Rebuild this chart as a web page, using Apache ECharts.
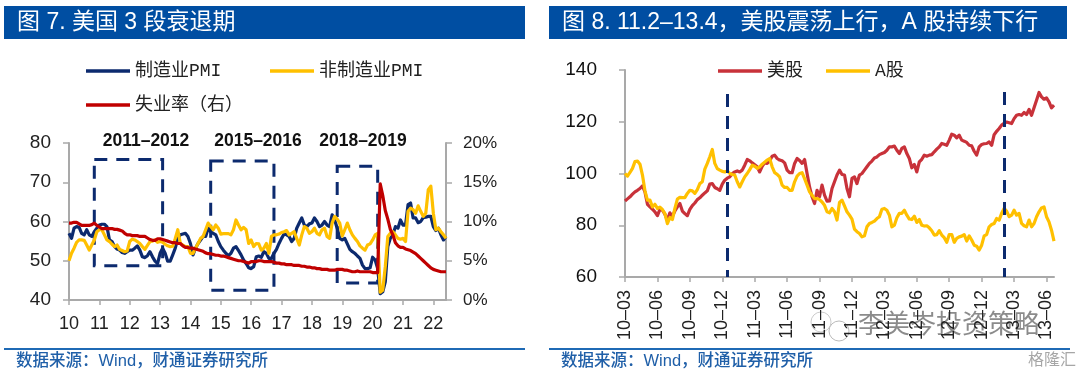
<!DOCTYPE html>
<html>
<head>
<meta charset="utf-8">
<style>
  html, body { margin: 0; padding: 0; background: #fff; }
  #main { width: 1080px; height: 375px; }
</style>
<script src="https://cdn.jsdelivr.net/npm/echarts@6/dist/echarts.min.js"></script>
</head>
<body>
<div id="main"></div>
<script>
// 图7，月度，2010-01起
const yearTicks = ["10","11","12","13","14","15","16","17","18","19","20","21","22"];
const mfgPmi = [57,55.7,58.3,58.7,58.5,57,56.6,57.9,56.6,56.2,57.4,58.3,59.1,59.3,59.3,58.7,55.3,54.9,53.6,53,52.7,52.1,51.9,52.3,52.7,52.7,53.2,53.8,52.7,51,50.8,51.3,52.3,51,49.9,49.3,51.9,53.2,51.9,49.9,49.9,51.5,53.2,55.7,56.6,56.8,57,56.2,54.4,51.5,53.2,54.4,55.3,56.2,56.2,58.3,57.4,57,56.6,54.9,53.6,52.7,51.9,51.3,51.9,53.2,53.6,52.6,51.5,50.2,49.3,48.2,48,48.5,51,51.2,50.9,52.3,51.9,50.6,50.6,51.9,52.9,54.4,55.7,56.8,56.6,56.2,54.9,55.7,58.3,59.6,60.9,59.1,58.7,59.4,59.6,60.9,60,58.7,59.1,60,59.1,58.7,61.7,60.4,58.3,55.7,55.3,55.7,54.3,52.9,52.3,51.9,51.2,50.6,48.9,48,48,48.2,50.9,50.2,48,41.6,42.1,44.6,53.6,55.7,56.6,58.7,58.3,60.4,59.1,59.1,64.3,64.7,60.9,60.9,59.7,60,61,61.1,61.3,61.3,58.7,57.7,58.3,56.6,55.3,56.2];
const nonMfgPmi = [50,51.9,53.2,54.7,55.3,55.3,55.2,54,52.7,54,55.3,57.4,57.9,57.9,56.6,55.3,54.9,54.2,53.6,54,52.9,52.6,52.3,52.5,54.9,55.5,55.3,54.9,54.4,53.6,52.9,53.9,54.9,55,55.3,54.7,54.9,54.7,54.2,53.8,53.6,53.7,55.7,57.9,54.4,54,53.6,53.6,51.9,51.9,53.2,54.4,55.7,56.2,57.9,59.6,58.7,57.9,59.1,58.3,56.8,56.9,56.9,56.9,56.6,57.9,60.4,59.1,57.9,58.5,57.9,54.4,55.3,53.6,54.4,54.3,52.7,53.2,54.4,51.9,56.2,56.6,56.6,56.8,57.2,57.4,57.7,56.6,57,57.4,55.7,54,56.6,58.7,58.3,57,57.4,58.3,57,56.6,57.9,58.3,56.2,55.7,59.6,61.3,60.6,59.6,56.3,57.9,59.6,57.9,56.6,55.7,54.9,53.8,53.2,52.7,54,54.3,55.3,56.6,57,42,42.5,48.5,56.2,57,57.4,56.6,55.7,55.5,55.7,54.9,62.6,63.4,63,62.1,64,62.6,61.3,62.1,68.1,69,62.1,57.9,58.3,57.4,56.6,55.7];
const unemployment = [9.8,9.8,9.9,9.9,9.7,9.5,9.5,9.5,9.5,9.6,9.8,9.5,9.3,9.1,9.1,9.1,9.1,9.1,9,9,8.9,8.8,8.5,8.3,8.3,8.2,8.2,8.2,8.1,8.1,8.1,7.9,7.7,7.6,7.6,7.8,7.8,7.7,7.6,7.5,7.4,7.3,7.3,7.2,7.2,6.9,6.7,6.7,6.6,6.6,6.5,6.4,6.3,6.2,6,5.9,5.9,5.8,5.7,5.7,5.6,5.6,5.5,5.4,5.3,5.2,5.1,5,5,4.9,4.8,4.7,4.9,4.9,4.9,5,5,4.9,4.9,4.9,4.9,4.8,4.7,4.7,4.6,4.6,4.5,4.5,4.5,4.4,4.4,4.4,4.3,4.3,4.2,4.2,4.1,4.1,4,4,3.9,3.9,3.9,3.8,3.8,3.8,3.9,3.9,3.9,3.8,3.8,3.7,3.6,3.6,3.7,3.6,3.6,3.6,3.6,3.6,3.5,3.5,3.5,14.8,13.3,11.4,10.3,9,8.3,7.3,6.9,6.7,6.7,6.5,6.4,6.3,6.1,5.9,5.6,5.3,5,4.7,4.4,4.1,3.9,3.8,3.7,3.6,3.6,3.6];
// 虚线框 [起点月序号, 终点月序号, 上沿, 下沿]
const recessionBoxes = [[10,37,75.8,48.7],[56,81,75.4,42.5],[106,122,74.1,44.3]];

// 图8，周度，2010-03起
const stockTicks = ["10–03","10–06","10–09","10–12","11–03","11–06","11–09","11–12","12–03","12–06","12–09","12–12","13–03","13–06"];
const usStock = [89.4,90.2,91,92,92.9,93.5,94.2,95.2,92.9,88.1,87.1,86.2,85.2,83.7,86.1,85.8,84.3,81.9,84.8,83.5,85.5,87.1,88.4,85.5,84.5,83.7,86.1,87.6,88.6,89.9,90.6,91.6,92.5,93.3,95.9,96.1,94.6,94.1,93.5,95.9,97.4,98.2,98.7,100,100.6,101,100.6,101.3,103.2,105.4,104.9,104.1,103.4,102.6,100.6,102.8,104.1,103.9,104.9,106.7,107.1,105.8,105.2,104.9,104.1,101.3,100.3,100.3,103.9,105.8,105,103.9,105.4,100,94.8,91,88.4,93.5,91,95.5,91.6,89.3,89.4,94.2,96.8,99.4,101.3,99.6,99.4,94.2,91,98.1,98.7,96.1,99.4,100,101.3,102.6,103.9,104.8,106,106.4,107.3,107.7,108.1,109,110.3,110.3,110.6,109,107.7,109.7,110.3,107.7,105.8,102.2,103.5,100.6,104.5,105.5,107.1,106.7,107.1,107.3,108.4,109.4,110.3,111.6,111.3,110.9,112.9,115.2,114.8,113.8,114.8,112.9,112.5,112,110.9,110.7,108.6,107.1,110.3,111.2,111.5,111.6,112.2,110.9,115,116.3,117.4,118.7,119.4,119.9,119.6,119.3,121.2,122.5,122.8,122.5,123.6,122.8,124.8,122.5,125.4,128.3,131.3,129.6,128.7,129.2,127.7,125.4,126.4];
const aStock = [100,99,100.4,102,104.6,104.8,103.6,99.4,93.3,89.7,89.7,87.1,88.1,86.5,87,86.1,84.5,80.6,83,82.2,86.5,90.1,90.8,90.7,90.7,92.3,93.5,93.3,92.3,93.8,96.1,96.8,101.7,103.9,106.5,109.3,103.9,101.9,101.3,100.8,100.6,101,100,99.6,99.4,96.8,94.8,96.8,98.7,100,101.5,103.2,102.8,102,102.6,103.6,104.4,105.2,105.8,102.6,100.3,99.7,98.7,95.5,94.6,94.6,93.5,93.5,96.8,99,100,100.3,98,95.5,92.9,91.6,90.3,90.3,89.9,89,87.7,85.2,84.8,86.5,85.2,82,88.8,89.7,87.5,85.2,83.9,82.4,78.5,77.5,76.8,75.5,75.9,79.4,80.7,81.1,81.6,82.6,83.3,86.2,86.5,85.8,83.9,79.4,80,82.9,84.6,84.6,85.8,83.9,82.4,82.2,83.5,81.1,82.2,80,79.7,79.8,79,77.9,76.2,76.4,77.9,76.2,75.2,73.4,76.4,76.4,73.4,74.9,75.5,75.8,76.4,73.9,75.9,74.3,72.3,71.9,70.4,72.3,75.9,76.4,79.4,80.3,80.7,82.6,82,84.6,86.5,85.5,83.3,83.9,85.8,83.9,84.6,80.7,79.8,79.4,82,79.4,80.7,83.3,85.2,86.7,87.1,83.3,81.3,78.1,73.9];
// 两条竖虚线 [周序号, 上端]
const phaseLines = [[41,130.7],[152,131.5]];

const monthCats = mfgPmi.map((_, i) => (i % 12 === 0 ? yearTicks[i / 12] : "m" + i));
const weekCats = usStock.map((_, i) => (i % 13 === 0 ? stockTicks[i / 13] : "w" + i));

const NAVY = "#0c2a6e";
const YELLOW = "#ffc000";
const LATIN = '"Liberation Sans","Noto Sans CJK SC",sans-serif';
const LEGEND_FONT = '"Liberation Mono","Noto Sans CJK SC",monospace';
const AXIS_GRAY = "#a9a9a9";

const axisLine = { show: true, lineStyle: { color: AXIS_GRAY, width: 2 } };
const axisTick = { show: true, length: 6, lineStyle: { color: AXIS_GRAY, width: 1.5 } };

function legendAt(left, name) {
  return {
    left: left, top: name[1], data: [{ name: name[0], icon: "rect" }], itemWidth: 44, itemHeight: 3.5, padding: 0,
    textStyle: { fontFamily: LEGEND_FONT, fontSize: 18, color: "#222" },
  };
}

function lineSeries(name, values, color, xi, yi, z) {
  return {
    name: name, type: "line", data: values, xAxisIndex: xi, yAxisIndex: yi,
    symbol: "none", z: z, lineStyle: { color: color, width: 3.2, join: "round" },
    itemStyle: { color: color }, animation: false,
  };
}

function titleBar(x, w, text) {
  return [
    { type: "rect", shape: { x: x, y: 6, width: w, height: 33 }, style: { fill: "#004ea2" } },
    { type: "text", x: x + 13, y: 22.5, style: { text: text, fill: "#fff", font: "23px " + LATIN, verticalAlign: "middle" } },
  ];
}

function sourceBar(x, w) {
  return [
    { type: "rect", shape: { x: x, y: 348, width: w, height: 2 }, style: { fill: "#1f6ab5" } },
    { type: "text", x: x + 12, y: 361, style: { text: "数据来源：Wind，财通证券研究所", fill: "#1f5fa8", font: "500 16.5px " + LATIN, verticalAlign: "middle" } },
  ];
}

function note(x, text) {
  return { type: "text", x: x, y: 141, style: { text: text, fill: "#111", font: "bold 17.5px " + LATIN, align: "center", verticalAlign: "middle" } };
}

const option = {
  animation: false,
  backgroundColor: "#fff",
  grid: [
    { left: 69, top: 143, width: 377, height: 157 },
    { left: 625, top: 70, width: 429, height: 207 },
  ],
  legend: [
    legendAt(86, ["制造业PMI", 62]),
    legendAt(270, ["非制造业PMI", 62]),
    legendAt(86, ["失业率（右）", 96]),
    legendAt(718, ["美股", 62]),
    legendAt(826, ["A股", 62]),
  ],
  xAxis: [
    {
      type: "category", gridIndex: 0, data: monthCats, boundaryGap: false,
      axisLine: { ...axisLine, onZero: false },
      axisTick: { ...axisTick, length: 5, interval: 11 },
      axisLabel: { interval: 11, margin: 15, fontFamily: LATIN, fontSize: 18, color: "#222" },
    },
    {
      type: "category", gridIndex: 1, data: weekCats, boundaryGap: false,
      axisLine: { ...axisLine, onZero: false },
      axisTick: { ...axisTick, length: 5, interval: 12 },
      axisLabel: { interval: 12, rotate: 90, margin: 13, fontFamily: LATIN, fontSize: 18, color: "#222" },
    },
  ],
  yAxis: [
    {
      type: "value", gridIndex: 0, min: 40, max: 80, interval: 10, splitLine: { show: false },
      axisLine: axisLine, axisTick: axisTick,
      axisLabel: { margin: 18, fontFamily: LATIN, fontSize: 19, color: "#222" },
    },
    {
      type: "value", gridIndex: 0, position: "right", min: 0, max: 20, interval: 5, splitLine: { show: false },
      axisLine: axisLine, axisTick: axisTick,
      axisLabel: { margin: 17, formatter: "{value}%", fontFamily: LATIN, fontSize: 17, color: "#222" },
    },
    {
      type: "value", gridIndex: 1, min: 60, max: 140, interval: 20, splitLine: { show: false },
      axisLine: axisLine, axisTick: axisTick,
      axisLabel: { margin: 28, fontFamily: LATIN, fontSize: 19, color: "#111" },
    },
  ],
  series: [
    lineSeries("制造业PMI", mfgPmi, NAVY, 0, 0, 3),
    lineSeries("非制造业PMI", nonMfgPmi, YELLOW, 0, 0, 4),
    lineSeries("失业率（右）", unemployment, "#c00000", 0, 1, 5),
    {
      type: "line", xAxisIndex: 0, yAxisIndex: 0, data: [], z: 6, silent: true,
      markArea: {
        silent: true,
        itemStyle: { color: "rgba(0,0,0,0)", borderColor: NAVY, borderWidth: 3, borderType: [13, 9] },
        data: recessionBoxes.map((b) => [
          { xAxis: b[0], yAxis: b[2] },
          { xAxis: b[1], yAxis: b[3] },
        ]),
      },
    },
    lineSeries("美股", usStock, "#c8323a", 1, 2, 3),
    lineSeries("A股", aStock, YELLOW, 1, 2, 4),
    {
      type: "line", xAxisIndex: 1, yAxisIndex: 2, data: [], z: 6, silent: true,
      markLine: {
        silent: true, symbol: "none", label: { show: false },
        lineStyle: { color: NAVY, width: 3, type: [13, 9] },
        data: phaseLines.map((p) => [
          { xAxis: p[0], yAxis: p[1] },
          { xAxis: p[0], yAxis: 60 },
        ]),
      },
    },
  ],
  graphic: {
    elements: [
      ...titleBar(4, 521, "图 7. 美国 3 段衰退期"),
      ...titleBar(549, 518, "图 8. 11.2–13.4，美股震荡上行，A 股持续下行"),
      ...sourceBar(4, 521),
      ...sourceBar(549, 521),
      note(146, "2011–2012"),
      note(258, "2015–2016"),
      note(363, "2018–2019"),
      // 水印
      { type: "circle", shape: { cx: 821, cy: 322, r: 10 }, style: { fill: "#fff", stroke: "#ccc", lineWidth: 1 } },
      { type: "circle", shape: { cx: 839, cy: 331, r: 10 }, style: { fill: "#fff", stroke: "#bbb", lineWidth: 1 } },
      { type: "text", x: 858, y: 326, style: { text: "李美岑投资策略", fill: "rgba(90,90,90,0.7)", font: "26px " + LATIN, verticalAlign: "middle" } },
      { type: "text", x: 1028, y: 361, style: { text: "格隆汇", fill: "rgba(150,150,150,0.85)", font: "16px " + LATIN, verticalAlign: "middle" } },
    ],
  },
};

const myChart = echarts.init(document.getElementById("main"), null, { renderer: "canvas" });
myChart.setOption(option);
</script>
</body>
</html>
